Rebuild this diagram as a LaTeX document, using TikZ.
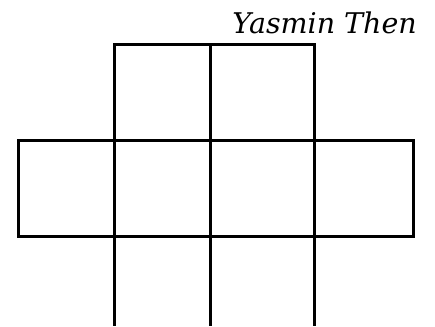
\documentclass[tikz,border=0pt]{standalone}
\usepackage{fontspec}
\usetikzlibrary{positioning}
\newfontfamily\namefont{DejaVu Serif}

\begin{document}
\begin{tikzpicture}[
  x=1pt,y=-1pt,
  edge/.style={draw=black,line width=3pt},
  label text/.style={font=\namefont\itshape\fontsize{28.5}{32}\selectfont,inner sep=0pt},
]
\useasboundingbox (0,0) rectangle (435,326);

% ---------- TOP ROW ----------
\coordinate (t1) at (114,45);
\coordinate (t2) at (210,45);
\coordinate (t3) at (314,45);
\draw[edge] (114,140) -- (t1) -- (t3) -- (314,140);
\draw[edge] (t2) -- (210,140);

% ---------- MIDDLE ROW ----------
\draw[edge] (18,140) rectangle (413,236);
\foreach \x in {114,210,314}
  \draw[edge] (\x,140) -- (\x,236);

% ---------- BOTTOM ROW (open) ----------
\foreach \x in {114,210,314}
  \draw[edge] (\x,236) -- (\x,326);

% ---------- NAME ----------
\node[label text,anchor=base east] (who) at (417,34) {Yasmin Then};

\end{tikzpicture}
\end{document}
